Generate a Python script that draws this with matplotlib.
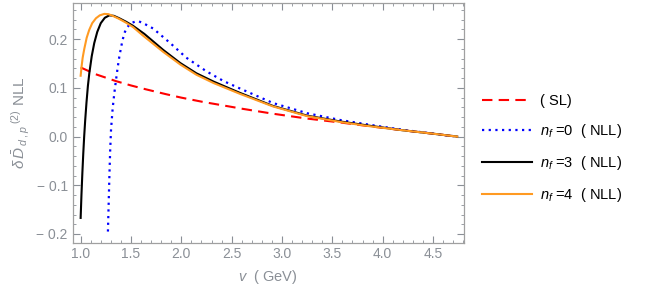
import matplotlib
matplotlib.use('Agg')
import matplotlib.pyplot as plt
from matplotlib.ticker import MultipleLocator, FuncFormatter

plt.rcParams['font.family'] = ['Liberation Sans', 'DejaVu Sans']
plt.rcParams['mathtext.fontset'] = 'custom'
plt.rcParams['mathtext.rm'] = 'Liberation Sans'
plt.rcParams['mathtext.it'] = 'Liberation Sans:italic'
plt.rcParams['mathtext.bf'] = 'Liberation Sans:bold'

# curves
v_sl = [1.0, 1.15, 1.35, 1.5, 1.65, 1.85, 2.0, 2.22, 2.5, 2.58, 2.91, 3.25, 3.58, 3.88, 4.2, 4.5, 4.74]
d_sl = [0.142, 0.128, 0.114, 0.105, 0.097, 0.087, 0.080, 0.071, 0.061, 0.058, 0.047, 0.037, 0.029,
        0.021, 0.013, 0.006, 0.0]

v_nf0 = [1.271, 1.278, 1.285, 1.293, 1.302, 1.318, 1.335, 1.351, 1.368, 1.384, 1.41, 1.433, 1.46,
         1.5, 1.54, 1.58, 1.63, 1.72, 1.89, 2.05, 2.25, 2.42, 2.58, 2.91, 3.25, 3.58, 3.88, 4.2,
         4.5, 4.74]
d_nf0 = [-0.195, -0.14, -0.085, -0.03, 0.015, 0.058, 0.09, 0.116, 0.142, 0.164, 0.192, 0.212,
         0.224, 0.233, 0.236, 0.2365, 0.232, 0.222, 0.192, 0.162, 0.134, 0.114, 0.099, 0.069,
         0.048, 0.034, 0.024, 0.014, 0.006, 0.0]

v_nf3 = [1.0, 1.008, 1.017, 1.026, 1.035, 1.045, 1.058, 1.072, 1.086, 1.11, 1.135, 1.165, 1.2,
         1.24, 1.285, 1.33, 1.384, 1.45, 1.517, 1.632, 1.82, 1.99, 2.15, 2.32, 2.58, 2.91, 3.25,
         3.58, 3.88, 4.2, 4.5, 4.74]
d_nf3 = [-0.167, -0.12, -0.075, -0.035, 0.0, 0.033, 0.07, 0.104, 0.13, 0.165, 0.192, 0.215,
         0.233, 0.244, 0.249, 0.248, 0.243, 0.236, 0.228, 0.211, 0.178, 0.151, 0.13, 0.113,
         0.09, 0.063, 0.043, 0.031, 0.022, 0.013, 0.006, 0.0]

v_nf4 = [1.0, 1.01, 1.02, 1.036, 1.06, 1.085, 1.115, 1.152, 1.19, 1.235, 1.275, 1.318, 1.38,
         1.45, 1.52, 1.616, 1.82, 1.99, 2.15, 2.32, 2.58, 2.91, 3.25, 3.58, 3.88, 4.2, 4.5, 4.74]
d_nf4 = [0.125, 0.145, 0.162, 0.18, 0.203, 0.219, 0.233, 0.243, 0.249, 0.252, 0.2515, 0.248,
         0.242, 0.234, 0.225, 0.208, 0.174, 0.148, 0.127, 0.11, 0.088, 0.062, 0.042, 0.03,
         0.021, 0.013, 0.006, 0.0]

labels = ['( SL)', r'$n_f$ =0  ( NLL)', r'$n_f$ =3  ( NLL)', r'$n_f$ =4  ( NLL)']

gray = '#8a8f96'

fig = plt.figure(figsize=(6.54, 2.93), dpi=100)
ax = fig.add_axes([0.111, 0.172, 0.598, 0.818])

ax.plot(v_sl, d_sl, color='#ff0000', lw=1.5, dashes=(5, 3), label=labels[0])
ax.plot(v_nf0, d_nf0, color='#0000ff', lw=1.6, dashes=(1, 2), label=labels[1])
ax.plot(v_nf3, d_nf3, color='black', lw=1.5, label=labels[2])
ax.plot(v_nf4, d_nf4, color='#ff9a22', lw=1.5, label=labels[3])

ax.set_xlim(0.92, 4.805)
ax.set_ylim(-0.2177, 0.2745)

ax.xaxis.set_major_locator(MultipleLocator(0.5))
ax.xaxis.set_minor_locator(MultipleLocator(0.1))
ax.yaxis.set_major_locator(MultipleLocator(0.1))
ax.yaxis.set_minor_locator(MultipleLocator(0.02))
ax.xaxis.set_major_formatter(FuncFormatter(lambda x, p: '%.1f' % x))
ax.yaxis.set_major_formatter(FuncFormatter(
    lambda y, p: ('\u2212 %.1f' % abs(y)) if y < -1e-9 else '%.1f' % abs(y)))

ax.tick_params(which='both', direction='in', top=True, right=True, colors=gray,
               labelcolor=gray, labelsize=10)
ax.tick_params(which='major', length=5, width=0.8)
ax.tick_params(which='minor', length=2.5, width=0.6)
for s in ax.spines.values():
    s.set_color('#a0a0a0')
    s.set_linewidth(0.9)

ax.set_xlabel(r'$v$  ( GeV)', color=gray, fontsize=10.5, labelpad=5)
ax.set_ylabel(r'$\delta\,\bar{D}_{\,d\;,p}{}^{\;(2)}$ NLL', color=gray, fontsize=11, labelpad=3)

fig.legend(loc='center left', bbox_to_anchor=(0.737, 0.492), bbox_transform=fig.transFigure,
           frameon=False, fontsize=10.5, handlelength=3.4, handletextpad=0.6,
           labelspacing=0.95, borderpad=0, borderaxespad=0)

fig.savefig('out.png', dpi=100)
